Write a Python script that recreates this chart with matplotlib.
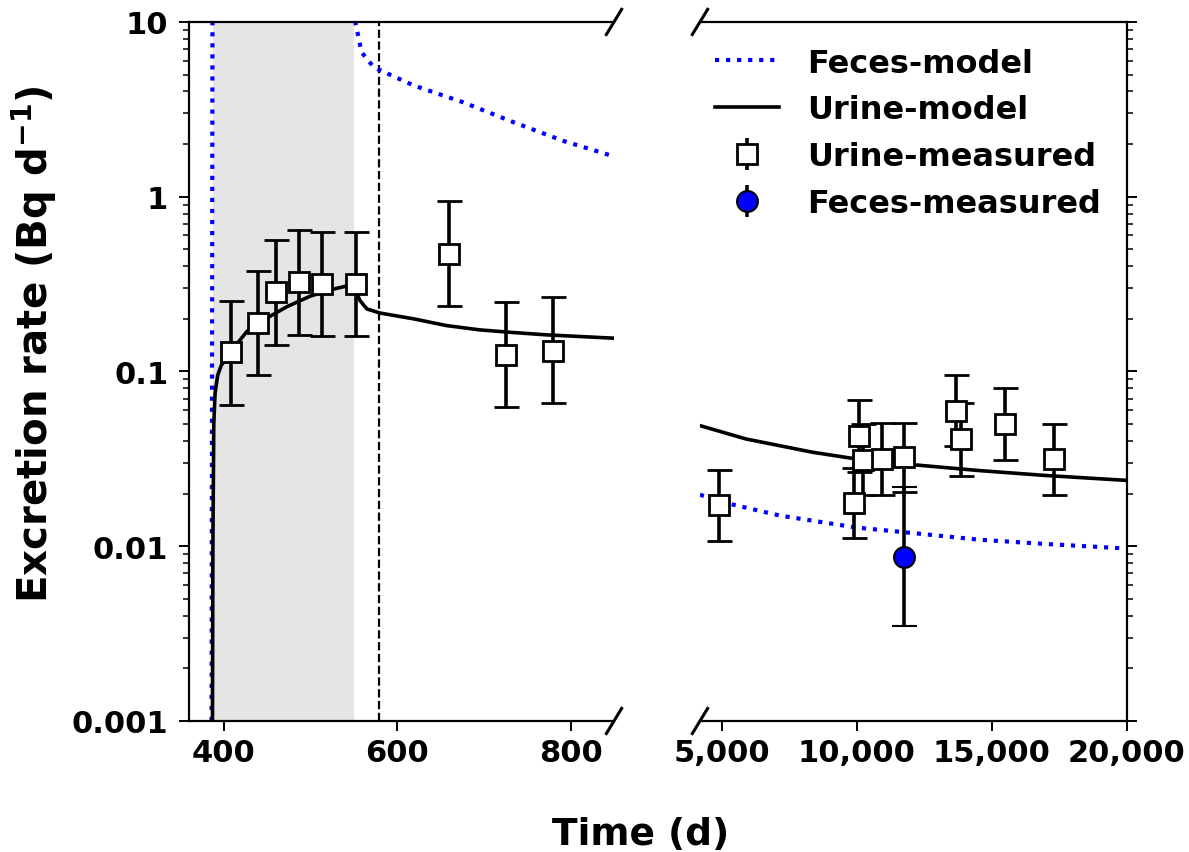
import numpy as np
import matplotlib
matplotlib.use("Agg")
import matplotlib.pyplot as plt
from matplotlib.ticker import FixedLocator, LogLocator, NullFormatter, StrMethodFormatter
from matplotlib.lines import Line2D

plt.rcParams['font.family'] = ['DejaVu Sans']
plt.rcParams['font.weight'] = 'bold'
plt.rcParams['mathtext.fontset'] = 'dejavusans'

# ---------------- data ----------------
# Urine model (left panel)
urine_model_t_left = [387, 387.5, 388.5, 390, 393, 397, 408, 427, 452, 473, 500, 525, 550,
                      552, 557, 565, 580, 619, 657, 695, 734, 772, 850]
urine_model_v_left = [0.001, 0.01, 0.05, 0.075, 0.095, 0.108, 0.13, 0.17, 0.205, 0.235, 0.27, 0.295, 0.315,
                      0.29, 0.255, 0.228, 0.216, 0.2, 0.183, 0.173, 0.167, 0.162, 0.155]
# Feces model (left panel)
feces_model_t_left = [386, 386.5, 387, 388, 549, 551.7, 559, 573, 619, 676, 734, 791, 850]
feces_model_v_left = [0.001, 0.1, 10, 40, 40, 10, 6.7, 5.5, 4.33, 3.47, 2.67, 2.09, 1.7]
# Models (right panel)
urine_model_t_right = [4200, 5900, 8364, 9969, 12061, 14527, 16991, 20000]
urine_model_v_right = [0.049, 0.0411, 0.0345, 0.0316, 0.0293, 0.0271, 0.0254, 0.0238]
feces_model_t_right = [4200, 5285, 7133, 9969, 12061, 14527, 16991, 20000]
feces_model_v_right = [0.0197, 0.0175, 0.015, 0.0128, 0.0119, 0.0109, 0.0103, 0.0097]

# Urine measured
urine_t_left = [408, 439, 460, 487, 513, 552, 660, 725, 780]
urine_v_left = [0.129, 0.19, 0.284, 0.324, 0.317, 0.317, 0.47, 0.124, 0.131]
urine_lo_left = [0.064, 0.095, 0.141, 0.162, 0.16, 0.16, 0.238, 0.0624, 0.066]
urine_hi_left = [0.254, 0.377, 0.567, 0.647, 0.63, 0.63, 0.95, 0.249, 0.266]

urine_t_right = [4890, 9900, 10100, 10250, 10950, 11770, 13665, 13870, 15480, 17320]
urine_v_right = [0.0172, 0.0176, 0.043, 0.031, 0.0316, 0.0325, 0.0597, 0.0413, 0.05, 0.0316]
urine_lo_right = [0.0107, 0.0111, 0.0267, 0.0197, 0.0197, 0.0204, 0.0375, 0.0253, 0.0313, 0.0196]
urine_hi_right = [0.0274, 0.0282, 0.069, 0.05, 0.051, 0.051, 0.0955, 0.066, 0.08, 0.05]

# Feces measured
feces_t = [11770]
feces_v = [0.00865]
feces_lo = [0.00348]
feces_hi = [0.0217]

intake_start, intake_end = 388, 550
dashed_t = 579

ytick_vals = [0.001, 0.01, 0.1, 1, 10]
ytick_labels = ['0.001', '0.01', '0.1', '1', '10']
xticks_left = [400, 600, 800]
xticks_right = [5000, 10000, 15000, 20000]

# ---------------- figure ----------------
fig = plt.figure(figsize=(11.89, 8.53), dpi=100)
axL = fig.add_axes([0.159, 0.1536, 0.3574, 0.8195])
axR = fig.add_axes([0.5887, 0.1536, 0.359, 0.8195])

tick_fs = 22

err_kw = dict(fmt='s', color='k', mfc='white', mec='k', ms=15, mew=2,
              elinewidth=2.6, capsize=9, capthick=2.4, zorder=4)

for ax in (axL, axR):
    ax.set_yscale('log')
    ax.set_ylim(0.001, 10)

# left panel
axL.axvspan(intake_start, intake_end, color='#e5e5e5', lw=0, zorder=0)
axL.axvline(dashed_t, color='k', ls='--', lw=1.6, zorder=1)
axL.plot(feces_model_t_left, feces_model_v_left, color='blue', ls=':', lw=3, zorder=2)
axL.plot(urine_model_t_left, urine_model_v_left, color='k', ls='-', lw=2.6, zorder=3)
u_v = np.array(urine_v_left)
axL.errorbar(urine_t_left, urine_v_left,
             yerr=[u_v - np.array(urine_lo_left), np.array(urine_hi_left) - u_v], **err_kw)
axL.set_xlim(360, 850)

# right panel
axR.plot(feces_model_t_right, feces_model_v_right, color='blue', ls=':', lw=3, zorder=2)
axR.plot(urine_model_t_right, urine_model_v_right, color='k', ls='-', lw=2.6, zorder=3)
ur_v = np.array(urine_v_right)
axR.errorbar(urine_t_right, urine_v_right,
             yerr=[ur_v - np.array(urine_lo_right), np.array(urine_hi_right) - ur_v], **err_kw)
f_v = np.array(feces_v)
axR.errorbar(feces_t, feces_v, yerr=[f_v - np.array(feces_lo), np.array(feces_hi) - f_v],
             fmt='o', color='k', mfc='blue', mec='k', ms=15, mew=1.5,
             elinewidth=2.6, capsize=9, capthick=2.4, zorder=5)
axR.set_xlim(4200, 20000)

# spines & ticks
axL.spines['right'].set_visible(False)
axR.spines['left'].set_visible(False)
for ax in (axL, axR):
    for s in ax.spines.values():
        s.set_linewidth(1.6)
    ax.tick_params(axis='both', which='major', length=7, width=1.4, labelsize=tick_fs,
                   direction='out', pad=5)
    ax.tick_params(axis='y', which='minor', length=4, width=1.1, direction='out')
    ax.yaxis.set_major_locator(FixedLocator(ytick_vals))
    ax.yaxis.set_minor_locator(LogLocator(base=10, subs=np.arange(2, 10) * 1.0, numticks=20))
    ax.yaxis.set_minor_formatter(NullFormatter())

axL.set_yticks(ytick_vals, ytick_labels)
axL.tick_params(axis='y', pad=8)
axL.set_xticks(xticks_left)
axR.set_xticks(xticks_right)
axR.xaxis.set_major_formatter(StrMethodFormatter('{x:,.0f}'))
axR.yaxis.tick_right()
axR.tick_params(axis='y', which='both', left=False, right=True, labelleft=False, labelright=False)
for lab in axL.get_xticklabels() + axL.get_yticklabels() + axR.get_xticklabels():
    lab.set_fontweight('bold')

# break marks
d = 0.018
kw = dict(color='k', clip_on=False, lw=2.2)
axL.plot((1 - d, 1 + d), (-d, +d), transform=axL.transAxes, **kw)
axL.plot((1 - d, 1 + d), (1 - d, 1 + d), transform=axL.transAxes, **kw)
axR.plot((-d, +d), (-d, +d), transform=axR.transAxes, **kw)
axR.plot((-d, +d), (1 - d, 1 + d), transform=axR.transAxes, **kw)

# labels
axL.set_ylabel(r'Excretion rate (Bq d$^{\mathrm{-1}}$)', fontsize=29, fontweight='bold')
axL.yaxis.set_label_coords(-0.305, 0.54)
fig.text(0.539, 0.021, 'Time (d)', fontsize=27, fontweight='bold', ha='center', va='center')

# legend
h1 = Line2D([], [], color='blue', ls=':', lw=3)
h2 = Line2D([], [], color='k', ls='-', lw=2.6)
h3 = axR.errorbar([], [], yerr=[], fmt='s', color='k', mfc='white', mec='k', ms=15, mew=2,
                  elinewidth=2.6, capsize=9, capthick=2.4)
h4 = axR.errorbar([], [], yerr=[], fmt='o', color='k', mfc='blue', mec='k', ms=15, mew=1.5,
                  elinewidth=2.6, capsize=9, capthick=2.4)
axR.legend([h1, h2, h3, h4], ['Feces-model', 'Urine-model', 'Urine-measured', 'Feces-measured'],
           loc='upper right', frameon=False, prop={'size': 23, 'weight': 'bold'},
           handlelength=2.0, handletextpad=0.9, labelspacing=0.5, borderaxespad=0.4)

fig.savefig('out.png', dpi=100)
